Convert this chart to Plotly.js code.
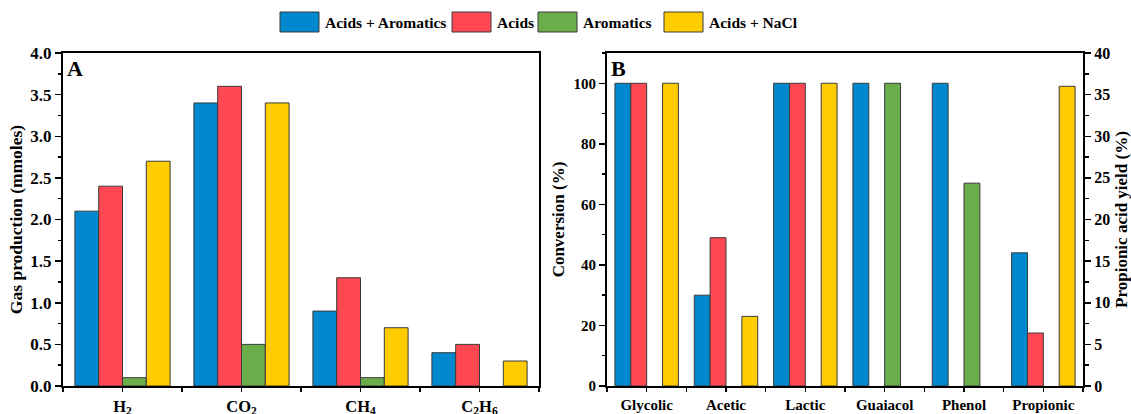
<!DOCTYPE html>
<html>
<head>
<meta charset="utf-8">
<script src="https://cdn.plot.ly/plotly-3.0.1.min.js"></script>
<style>html,body{margin:0;padding:0;background:#fff;}#chart{width:1131px;height:414px;}</style>
</head>
<body>
<div id="chart"></div>
<script>
// ---- data ----
const seriesNames = ['Acids + Aromatics', 'Acids', 'Aromatics', 'Acids + NaCl'];
const seriesColors = ['#0089CF', '#FF4852', '#6AAD4B', '#FFCC00'];

// Panel A: gas production (mmoles)
const gasCategories = ['H<sub>2</sub>', 'CO<sub>2</sub>', 'CH<sub>4</sub>', 'C<sub>2</sub>H<sub>6</sub>'];
const gasAcidsAromatics = [2.1, 3.4, 0.9, 0.4];
const gasAcids = [2.4, 3.6, 1.3, 0.5];
const gasAromatics = [0.1, 0.5, 0.1, null];
const gasAcidsNaCl = [2.7, 3.4, 0.7, 0.3];

// Panel B: conversion (%)
const convCategories = ['Glycolic', 'Acetic', 'Lactic', 'Guaiacol', 'Phenol', 'Propionic'];
const convAcidsAromatics = [100, 30, 100, 100, 100, 44];
const convAcids = [100, 49, 100, null, null, 17.5];
const convAromatics = [null, null, null, 100, 67, null];
const convAcidsNaCl = [100, 23, 100, null, null, null];
// Panel B right axis: propionic acid yield (%)
const yieldCategories = ['Propionic'];
const yieldAcidsNaCl = [36];

// ---- build ----
const FONT = 'Liberation Serif, Times New Roman, serif';
const gasSeries = [gasAcidsAromatics, gasAcids, gasAromatics, gasAcidsNaCl];
const convSeries = [convAcidsAromatics, convAcids, convAromatics, convAcidsNaCl];
const gasX = gasCategories.map((c, i) => i);
const convX = convCategories.map((c, i) => i);
const barLine = {color: '#3a3a3a', width: 1};

const traces = [];
gasSeries.forEach((vals, k) => traces.push({
  type: 'bar', x: gasX, y: vals, name: seriesNames[k], xaxis: 'x', yaxis: 'y',
  marker: {color: seriesColors[k], line: barLine}, showlegend: false
}));
convSeries.forEach((vals, k) => traces.push({
  type: 'bar', x: convX, y: vals, name: seriesNames[k], xaxis: 'x2', yaxis: 'y2',
  marker: {color: seriesColors[k], line: barLine}, showlegend: false
}));
traces.push({
  type: 'bar', x: yieldCategories.map(c => convCategories.indexOf(c)), y: yieldAcidsNaCl,
  name: seriesNames[3], xaxis: 'x2', yaxis: 'y3', width: 0.2, offset: 0.2,
  marker: {color: seriesColors[3], line: barLine}, showlegend: false
});

const W = 1131, H = 414;
const px = v => v / W, py = v => 1 - v / H;
const yDom = [py(386), py(53)];

const axisBase = {
  showline: true, linecolor: '#000', linewidth: 2, mirror: true,
  showgrid: false, zeroline: false, ticks: 'outside', ticklen: 6, tickwidth: 1.5,
  tickcolor: '#000', fixedrange: true
};

const boundaries = n => Array.from({length: n + 1}, (_, i) => i - 0.5);

const layout = {
  width: W, height: H,
  margin: {l: 0, r: 0, t: 0, b: 0},
  paper_bgcolor: '#fff', plot_bgcolor: '#fff',
  font: {family: FONT, color: '#000'},
  barmode: 'group', bargap: 0.2, bargroupgap: 0,
  showlegend: false,
  xaxis: Object.assign({}, axisBase, {
    domain: [px(63), px(539)], anchor: 'y', range: [-0.5, gasCategories.length - 0.5],
    tickmode: 'array', tickvals: gasX, ticktext: gasCategories, ticklen: 4,
    tickfont: {family: FONT, size: 16.5, weight: 'bold'},
    minor: {tickmode: 'array', tickvals: boundaries(gasCategories.length), ticks: 'outside', ticklen: 4, tickcolor: '#000', tickwidth: 1.5}
  }),
  yaxis: Object.assign({}, axisBase, {
    domain: yDom, anchor: 'x', range: [0, 4], dtick: 0.5, tick0: 0, tickformat: '.1f',
    tickfont: {family: FONT, size: 17, weight: 'bold'},
    minor: {dtick: 0.25, ticks: 'outside', ticklen: 3.5, tickcolor: '#000', tickwidth: 1.5},
    title: {text: 'Gas production (mmoles)', font: {family: FONT, size: 17.5, weight: 'bold'}, standoff: 3}
  }),
  xaxis2: Object.assign({}, axisBase, {
    domain: [px(607), px(1083)], anchor: 'y2', range: [-0.5, convCategories.length - 0.5],
    tickmode: 'array', tickvals: convX, ticktext: convCategories, ticklen: 4,
    tickfont: {family: FONT, size: 15, weight: 'bold'},
    minor: {tickmode: 'array', tickvals: boundaries(convCategories.length), ticks: 'outside', ticklen: 4, tickcolor: '#000', tickwidth: 1.5}
  }),
  yaxis2: Object.assign({}, axisBase, {
    domain: yDom, anchor: 'x2', range: [0, 110], dtick: 20, tick0: 0,
    tickfont: {family: FONT, size: 15, weight: 'bold'},
    minor: {dtick: 10, ticks: 'outside', ticklen: 3.5, tickcolor: '#000', tickwidth: 1.5},
    title: {text: 'Conversion (%)', font: {family: FONT, size: 17, weight: 'bold'}, standoff: 5}
  }),
  yaxis3: Object.assign({}, axisBase, {
    overlaying: 'y2', side: 'right', anchor: 'x2', mirror: false,
    range: [0, 40], dtick: 5, tick0: 0,
    tickfont: {family: FONT, size: 16, weight: 'bold'},
    minor: {dtick: 2.5, ticks: 'outside', ticklen: 3.5, tickcolor: '#000', tickwidth: 1.5},
    title: {text: 'Propionic acid yield (%)', font: {family: FONT, size: 17, weight: 'bold'}, standoff: 6}
  }),
  shapes: [],
  annotations: [
    {xref: 'paper', yref: 'paper', x: px(65), y: py(54), xanchor: 'left', yanchor: 'top',
     text: 'A', showarrow: false, font: {family: FONT, size: 22, weight: 'bold'}},
    {xref: 'paper', yref: 'paper', x: px(609), y: py(54), xanchor: 'left', yanchor: 'top',
     text: 'B', showarrow: false, font: {family: FONT, size: 22, weight: 'bold'}}
  ]
};

// custom legend (large swatches as in the reference)
const legendBoxLeft = [280, 452, 538, 664];
const legendBoxW = 39, legendTop = 12, legendBottom = 32;
seriesNames.forEach((name, k) => {
  layout.shapes.push({
    type: 'rect', xref: 'paper', yref: 'paper',
    x0: px(legendBoxLeft[k]), x1: px(legendBoxLeft[k] + legendBoxW),
    y0: py(legendBottom), y1: py(legendTop),
    fillcolor: seriesColors[k], line: {color: '#3a3a3a', width: 1}
  });
  layout.annotations.push({
    xref: 'paper', yref: 'paper', x: px(legendBoxLeft[k] + legendBoxW + 4), y: py((legendTop + legendBottom) / 2),
    xanchor: 'left', yanchor: 'middle', text: name, showarrow: false,
    font: {family: FONT, size: 15.5, weight: 'bold'}
  });
});

Plotly.newPlot('chart', traces, layout, {displayModeBar: false, staticPlot: true});
</script>
</body>
</html>
